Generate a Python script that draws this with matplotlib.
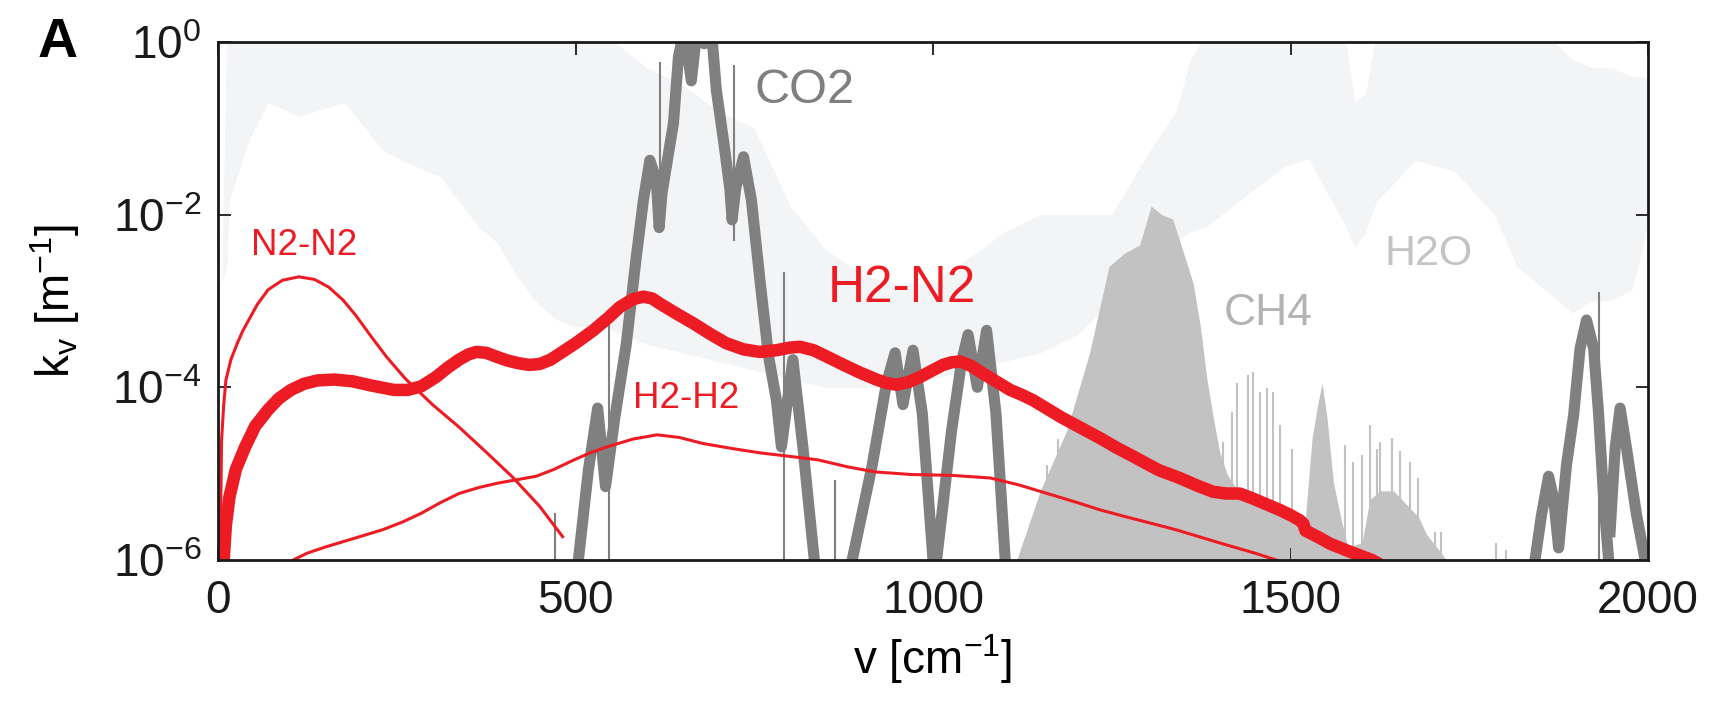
import numpy as np
import matplotlib.pyplot as plt
from matplotlib.ticker import NullLocator

plt.rcParams['font.family'] = ['Liberation Sans', 'DejaVu Sans']
plt.rcParams['mathtext.fontset'] = 'custom'
plt.rcParams['mathtext.rm'] = 'Liberation Sans'
plt.rcParams['mathtext.it'] = 'Liberation Sans:italic'
plt.rcParams['mathtext.default'] = 'regular'

nan = np.nan

# Collision-induced absorption curves (log10 of k_v)
h2n2_x = [4, 8, 11, 16, 25, 38, 52, 70, 85, 102, 120, 139, 163, 188, 215, 246, 265, 284, 305, 320,
          337, 350, 361, 375, 391, 405, 420, 435, 450, 465, 478, 500, 525, 545, 562, 580, 595, 607,
          618, 640, 665, 688, 711, 735, 758, 781, 800, 814, 833, 853, 875, 898, 921, 935, 949, 965,
          982, 1000, 1014, 1026, 1038, 1053, 1070, 1090, 1108, 1125, 1140, 1160, 1180, 1207, 1234,
          1257, 1280, 1300, 1316, 1345, 1370, 1392, 1410, 1429, 1448, 1465, 1485, 1500, 1513, 1518,
          1521, 1540, 1555, 1585, 1614, 1625]
h2n2_log = [-6.4, -6.0, -5.6, -5.27, -4.95, -4.69, -4.45, -4.26, -4.13, -4.03, -3.96, -3.92, -3.91,
            -3.93, -3.98, -4.03, -4.03, -3.99, -3.88, -3.78, -3.68, -3.62, -3.59, -3.60, -3.65, -3.69,
            -3.72, -3.74, -3.73, -3.68, -3.61, -3.49, -3.34, -3.20, -3.07, -2.98, -2.95, -2.97, -3.03,
            -3.14, -3.26, -3.38, -3.49, -3.56, -3.59, -3.57, -3.54, -3.53, -3.57, -3.65, -3.74, -3.83,
            -3.91, -3.95, -3.97, -3.94, -3.88, -3.80, -3.74, -3.71, -3.70, -3.75, -3.84, -3.94, -4.03,
            -4.09, -4.15, -4.25, -4.35, -4.47, -4.59, -4.70, -4.80, -4.89, -4.96, -5.05, -5.14, -5.21,
            -5.23, -5.23, -5.29, -5.35, -5.42, -5.48, -5.54, -5.58, -5.66, -5.74, -5.81, -5.91, -6.0,
            -6.05]

n2n2_x = [3, 4, 5, 8, 11, 18, 27, 35, 43, 55, 70, 90, 113, 135, 155, 175, 193, 215, 236, 262, 300,
          337, 375, 412, 450, 482]
n2n2_log = [-6.1, -5.3, -4.61, -4.2, -3.92, -3.68, -3.49, -3.34, -3.22, -3.04, -2.87, -2.76, -2.72,
            -2.75, -2.84, -2.99, -3.17, -3.42, -3.65, -3.90, -4.20, -4.46, -4.75, -5.04, -5.38, -5.73]

h2h2_x = [95, 105, 125, 150, 190, 230, 258, 284, 310, 337, 365, 391, 418, 445, 470, 498, 520, 544, 580,
          614, 645, 678, 720, 759, 800, 839, 880, 919, 970, 1027, 1080, 1120, 1160, 1200, 1234, 1270,
          1303, 1340, 1400, 1450, 1480, 1490]
h2h2_log = [-6.1, -6.0, -5.92, -5.85, -5.75, -5.65, -5.56, -5.46, -5.34, -5.23, -5.16, -5.11, -5.07,
            -5.03, -4.95, -4.84, -4.76, -4.69, -4.60, -4.55, -4.58, -4.65, -4.71, -4.76, -4.80, -4.84,
            -4.92, -4.98, -5.01, -5.02, -5.05, -5.13, -5.23, -5.33, -5.42, -5.50, -5.57, -5.65, -5.80,
            -5.92, -6.0, -6.03]

# CO2 bands (band centre lines, gaps between bands)
co2_x = [504, 518, 531, 542, 555, 571, 585, 595, 604, 613, 617, 621, 637, 644, 652, 662, 670, 680, 690, 697,
         707, 716, 719, 724, 735, 746, 758, 770, 781, 788, 804, 818, 834, nan,
         887, 915, 935, 947, 958, 972, 985, 1000, nan,
         1005, 1026, 1040, 1049, 1062, 1075, 1088, 1101, nan,
         1842, 1851, 1861, 1868, 1875, 1886, 1896, 1905, 1914, 1924, 1931, 1938, 1945, nan,
         1947, 1954, 1961, 1970, 1984, 1996]
co2_log = [-6.0, -4.96, -4.24, -5.15, -4.35, -3.5, -2.49, -1.83, -1.37, -1.60, -2.15, -1.75, -0.94, -0.17,
           0.15, -0.45, 0.15, -0.02, 0.15, -0.56, -1.14, -1.71, -2.06, -1.7, -1.33, -1.83, -2.76, -3.64,
           -4.15, -4.69, -3.68, -4.69, -6.0, nan,
           -6.0, -4.9, -3.95, -3.6, -4.2, -3.57, -4.3, -6.0, nan,
           -6.0, -4.5, -3.7, -3.39, -4.0, -3.34, -4.3, -6.0, nan,
           -6.0, -5.48, -5.03, -5.29, -5.86, -4.90, -4.32, -3.55, -3.22, -3.55, -4.32, -5.29, -6.0, nan,
           -5.67, -4.71, -4.24, -4.71, -5.48, -6.0]
co2_spike_x = [471, 547, 618, 721, 791, 863, 1932]
co2_spike_top = [-5.45, -3.26, -0.23, -0.27, -2.66, -5.07, -2.89]
co2_spike_bottom = [-6.0, -6.0, -2.2, -2.3, -6.0, -6.0, -6.0]

# CH4 dense envelope and isolated lines
ch4_x = [1117, 1150, 1187, 1219, 1246, 1267, 1289, 1305, 1320, 1335, 1345, 1364, 1374, 1383, 1392, 1401,
         1411, 1430, 1460, 1490, 1520, 1530, 1538, 1544, 1551, 1560, 1570, 1580, 1600, 1611, 1625, 1644,
         1667, 1679, 1690, 1709, 1718]
ch4_top = [-6.0, -5.2, -4.5, -3.6, -2.6, -2.45, -2.35, -1.9, -2.0, -2.05, -2.3, -2.8, -3.3, -3.9, -4.35,
           -4.75, -5.0, -5.25, -5.3, -5.4, -5.6, -4.6, -4.2, -3.95, -4.35, -5.1, -5.5, -5.85, -5.8, -5.3,
           -5.2, -5.2, -5.4, -5.5, -5.7, -5.9, -6.0]
ch4_spike_x = [1160, 1175, 1200, 1406, 1418, 1425, 1441, 1448, 1457, 1467, 1476, 1485, 1502, 1576, 1588,
               1600, 1611, 1621, 1625, 1642, 1653, 1667, 1679, 1702, 1711, 1788, 1802]
ch4_spike_top = [-4.9, -4.6, -4.2, -4.63, -4.28, -3.95, -3.86, -3.82, -4.05, -4.01, -4.05, -4.44, -4.71,
                 -4.67, -4.86, -4.78, -4.44, -4.71, -4.63, -4.59, -4.74, -4.86, -5.05, -5.67, -5.67, -5.8,
                 -5.88]

# H2O line forest (upper / lower edge of the dense part)
h2o_x = [5, 12, 16, 43, 70, 113, 177, 230, 257, 311, 364, 391, 418, 444, 471, 498, 540, 570, 600, 650,
         700, 750, 800, 850, 900, 950, 1000, 1050, 1100, 1150, 1200, 1250, 1300, 1340, 1360, 1382, 1450,
         1490, 1525, 1575, 1590, 1605, 1620, 1675, 1730, 1785, 1817, 1856, 1894, 1922, 1950, 1977, 1995,
         2000]
h2o_top = [-2.8, 0.1, 0.1, 0.1, 0.1, 0.1, 0.1, 0.1, 0.1, 0.1, 0.1, 0.1, 0.1, 0.1, 0.1, 0.1, 0.1, -0.1,
           -0.3, -0.5, -0.8, -1.0, -1.9, -2.4, -2.7, -2.8, -2.8, -2.5, -2.2, -2.0, -2.0, -2.0, -1.3, -0.8,
           -0.2, 0.1, 0.1, 0.1, 0.1, 0.1, -0.7, -0.6, 0.1, 0.1, 0.1, 0.1, 0.1, 0.1, -0.2, -0.3, -0.3, -0.4,
           -0.4, -0.5]
h2o_bottom = [-2.8, -2.6, -1.83, -1.14, -0.7, -0.86, -0.7, -1.25, -1.37, -1.56, -2.14, -2.33, -2.72, -3.0,
              -3.2, -3.3, -3.3, -3.4, -3.5, -3.6, -3.7, -3.8, -3.9, -4.0, -4.0, -4.0, -3.9, -3.8, -3.7,
              -3.6, -3.4, -3.0, -2.6, -2.3, -2.2, -2.14, -1.7, -1.45, -1.35, -2.1, -2.37, -2.2, -1.85, -1.37,
              -1.5, -2.0, -2.6, -2.87, -3.14, -3.0, -2.99, -2.87, -2.3, -2.0]

red = '#ed1c24'
W, H = 1717, 701
fig = plt.figure(figsize=(W / 100, H / 100), dpi=100)
ax = fig.add_axes([218 / W, 1 - 560 / H, 1430 / W, 518 / H])


def p(v):
    return 10.0 ** np.asarray(v, dtype=float)


ax.fill_between(h2o_x, p(h2o_bottom), p(h2o_top), color='#f3f4f6', lw=0)
ax.fill_between(ch4_x, 1e-7, p(ch4_top), color='#c2c2c2', lw=0)
ax.vlines(ch4_spike_x, 1e-7, p(ch4_spike_top), color='#c2c2c2', lw=1.5)
ax.plot(co2_x, p(co2_log), color='#808080', lw=8, solid_joinstyle='round')
ax.vlines(co2_spike_x, p(co2_spike_bottom), p(co2_spike_top), color='#808080', lw=1.5)

ax.plot(h2h2_x, p(h2h2_log), color=red, lw=2.2)
ax.plot(n2n2_x, p(n2n2_log), color=red, lw=2.2)
ax.plot(h2n2_x, p(h2n2_log), color=red, lw=9, solid_capstyle='butt', solid_joinstyle='round')

ax.text(751, p(-0.56), 'CO2', color='#7f7f7f', fontsize=35, va='center')
ax.text(853, p(-2.86), 'H2-N2', color=red, fontsize=37, va='center')
ax.text(46, p(-2.36), 'N2-N2', color=red, fontsize=26.5, va='center')
ax.text(580, p(-4.13), 'H2-H2', color=red, fontsize=26.5, va='center')
ax.text(1406, p(-3.15), 'CH4', color='#b3b3b3', fontsize=32, va='center')
ax.text(1632, p(-2.45), 'H2O', color='#c4c4c4', fontsize=31, va='center')

ax.set_yscale('log')
ax.set_xlim(0, 2000)
ax.set_ylim(1e-6, 1)
ax.set_xticks([0, 500, 1000, 1500, 2000])
ax.set_yticks([1e-6, 1e-4, 1e-2, 1])
ax.set_yticklabels([r'$10^{-6}$', r'$10^{-4}$', r'$10^{-2}$', r'$10^{0}$'])
ax.yaxis.set_minor_locator(NullLocator())
ax.tick_params(direction='in', length=9, width=1.3, top=True, right=True, labelsize=33, colors='#1a1a1a')
ax.tick_params(axis='x', pad=14)
ax.tick_params(axis='y', pad=12)
for s in ax.spines.values():
    s.set_linewidth(2)
    s.set_color('#1a1a1a')

ax.set_xlabel(r'v [cm$^{-1}$]', fontsize=33, labelpad=6)
ax.set_ylabel(r'k$_{v}$ [m$^{-1}$]', fontsize=33, labelpad=22)
fig.text(38 / W, 1 - 57 / H, 'A', fontsize=40, fontweight='bold', va='baseline')

plt.savefig('out.png', dpi=100)
